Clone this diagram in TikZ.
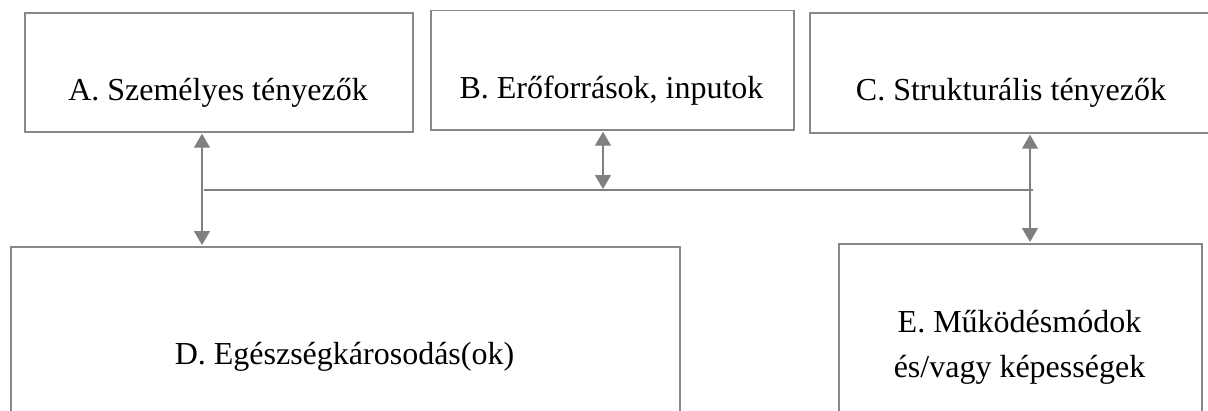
\documentclass[tikz,border=0pt]{standalone}
\usepackage{fontspec}
\setmainfont{Liberation Serif}
\usetikzlibrary{arrows.meta}
\definecolor{framegray}{RGB}{136,136,136}
\definecolor{linkgray}{RGB}{128,128,128}
\tikzset{
  box/.style={draw=framegray, line width=1.7pt, rectangle, inner sep=0pt, anchor=north west},
  lbl/.style={anchor=base, inner sep=0pt, font=\fontsize{32}{44}\selectfont, text=black},
  link/.style={draw=linkgray, line width=1.3pt},
  both/.style={link, {Triangle[length=14pt,width=16pt]}-{Triangle[length=14pt,width=16pt]}, shorten <=1pt, shorten >=1pt},
}
\begin{document}
\begin{tikzpicture}[x=1pt, y=-1pt]
  \useasboundingbox (0,0) rectangle (1208,410);
  \clip (0,0) rectangle (1208,410);

  % upper row of boxes
  \node[box, minimum width=388pt, minimum height=119pt] (A) at (24,12) {};
  \node[box, minimum width=363pt, minimum height=119.5pt] (B) at (430,9.5) {};
  \node[box, minimum width=420pt, minimum height=120pt] (C) at (809,12) {};
  % lower row of boxes, running past the bottom edge
  \node[box, minimum width=669pt, minimum height=200pt] (D) at (10,246) {};
  \node[box, minimum width=363pt, minimum height=200pt] (E) at (838,243) {};

  % box texts
  \node[lbl] (tA) at (218,100) {A. Személyes tényezők};
  \node[lbl] (tB) at (611.5,98) {B. Erőforrások, inputok};
  \node[lbl] (tC) at (1011,100) {C. Strukturális tényezők};
  \node[lbl] (tD) at (344.5,364) {D. Egészségkárosodás(ok)};
  \node[lbl] (tE1) at (1019.5,332) {E. Működésmódok};
  \node[lbl] (tE2) at (1019.5,377) {és/vagy képességek};

  % shared horizontal link
  \coordinate (hL) at (204,190);
  \coordinate (hB) at (603,190);
  \coordinate (hR) at (1033,190);
  \coordinate (xA) at (202,0);
  \coordinate (xC) at (1030,0);
  \draw[link, line width=1.2pt] (hL) -- (hR);

  % two-headed arrows
  \draw[both] (A.south -| xA) -- (D.north -| xA);
  \draw[both] (B.south -| hB) -- (hB);
  \draw[both] (C.south -| xC) -- (E.north -| xC);
\end{tikzpicture}
\end{document}
